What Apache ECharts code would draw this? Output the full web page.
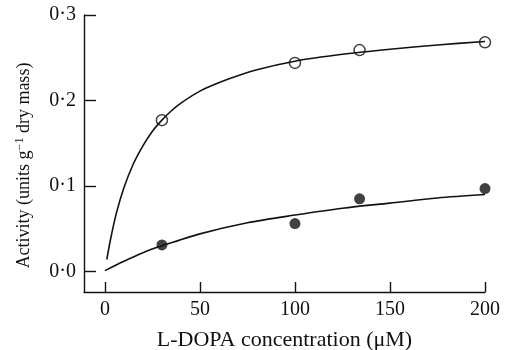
<!DOCTYPE html>
<html>
<head>
<meta charset="utf-8">
<script src="https://cdn.jsdelivr.net/npm/echarts@6/dist/echarts.min.js"></script>
<style>
  html, body { margin: 0; padding: 0; background: #fff; }
  #chart { width: 507px; height: 350px; }
</style>
</head>
<body>
<div id="chart"></div>
<script>
// measured points
var openX = [30, 100, 134, 200];
var openY = [0.177, 0.244, 0.259, 0.268];
var filledX = [30, 100, 134, 200];
var filledY = [0.031, 0.056, 0.085, 0.097];

// fitted curves
var upperCurveX = [1, 3, 6, 10, 15, 20, 25, 30, 35, 40, 50, 65, 80, 100, 125, 150, 175, 200];
var upperCurveY = [0.014, 0.038, 0.068, 0.098, 0.126, 0.147, 0.164, 0.177, 0.188, 0.197, 0.211, 0.225, 0.236, 0.246, 0.254, 0.260, 0.265, 0.269];
var lowerCurveX = [0, 10, 20, 30, 50, 75, 100, 125, 150, 175, 200];
var lowerCurveY = [0.001, 0.012, 0.022, 0.030, 0.044, 0.057, 0.066, 0.074, 0.080, 0.086, 0.090];

var xTicks = [0, 50, 100, 150, 200];
var yTicks = [0, 0.1, 0.2, 0.3];

function pairs(xs, ys) {
    var out = [];
    for (var i = 0; i < xs.length; i++) out.push([xs[i], ys[i]]);
    return out;
}

var font = 'Liberation Serif';
var ink = '#111';
var chart = echarts.init(document.getElementById('chart'));

chart.setOption({
    animation: false,
    grid: { left: 84, top: 15, right: 22, bottom: 58, containLabel: false, outerBoundsMode: 'none' },
    xAxis: {
        type: 'value',
        min: -11,
        max: 200,
        name: 'L-DOPA concentration (\u03bcM)',
        nameLocation: 'middle',
        nameGap: 37,
        nameTextStyle: { fontFamily: font, fontSize: 22, color: ink },
        axisLine: { onZero: false, lineStyle: { color: ink, width: 1.4 } },
        axisTick: { inside: true, length: 10, customValues: xTicks, lineStyle: { color: ink, width: 1.4 } },
        axisLabel: { customValues: xTicks, fontFamily: font, fontSize: 20, color: ink, margin: 8 },
        splitLine: { show: false }
    },
    yAxis: {
        type: 'value',
        min: -0.024,
        max: 0.3,
        name: '{n|Activity (units g}{sup|\u22121}{n| dry mass)}',
        nameLocation: 'middle',
        nameGap: 50,
        nameTextStyle: {
            padding: [0, 24, 0, 0],
            rich: {
                n: { fontFamily: font, fontSize: 18, color: ink },
                sup: { fontFamily: font, fontSize: 12, color: ink, verticalAlign: 'top', padding: [0, 0, 8, 0] }
            }
        },
        axisLine: { show: true, onZero: false, lineStyle: { color: ink, width: 1.4 } },
        axisTick: { show: true, inside: true, length: 12, customValues: yTicks, lineStyle: { color: ink, width: 1.4 } },
        axisLabel: {
            customValues: yTicks,
            fontFamily: font, fontSize: 20, color: ink, margin: 8,
            formatter: function (v) { return v.toFixed(1).replace('.', '\u00b7'); }
        },
        splitLine: { show: false }
    },
    series: [
        {
            type: 'line', data: pairs(upperCurveX, upperCurveY), smooth: 0.3,
            showSymbol: false, lineStyle: { color: ink, width: 1.6 }, z: 2
        },
        {
            type: 'line', data: pairs(lowerCurveX, lowerCurveY), smooth: 0.3,
            showSymbol: false, lineStyle: { color: ink, width: 1.6 }, z: 2
        },
        {
            type: 'scatter', data: pairs(openX, openY), symbol: 'circle', symbolSize: 11,
            itemStyle: { color: 'transparent', borderColor: ink, borderWidth: 1.5 }, z: 3
        },
        {
            type: 'scatter', data: pairs(filledX, filledY), symbol: 'circle', symbolSize: 11,
            itemStyle: { color: ink }, z: 3
        }
    ]
});
</script>
</body>
</html>
